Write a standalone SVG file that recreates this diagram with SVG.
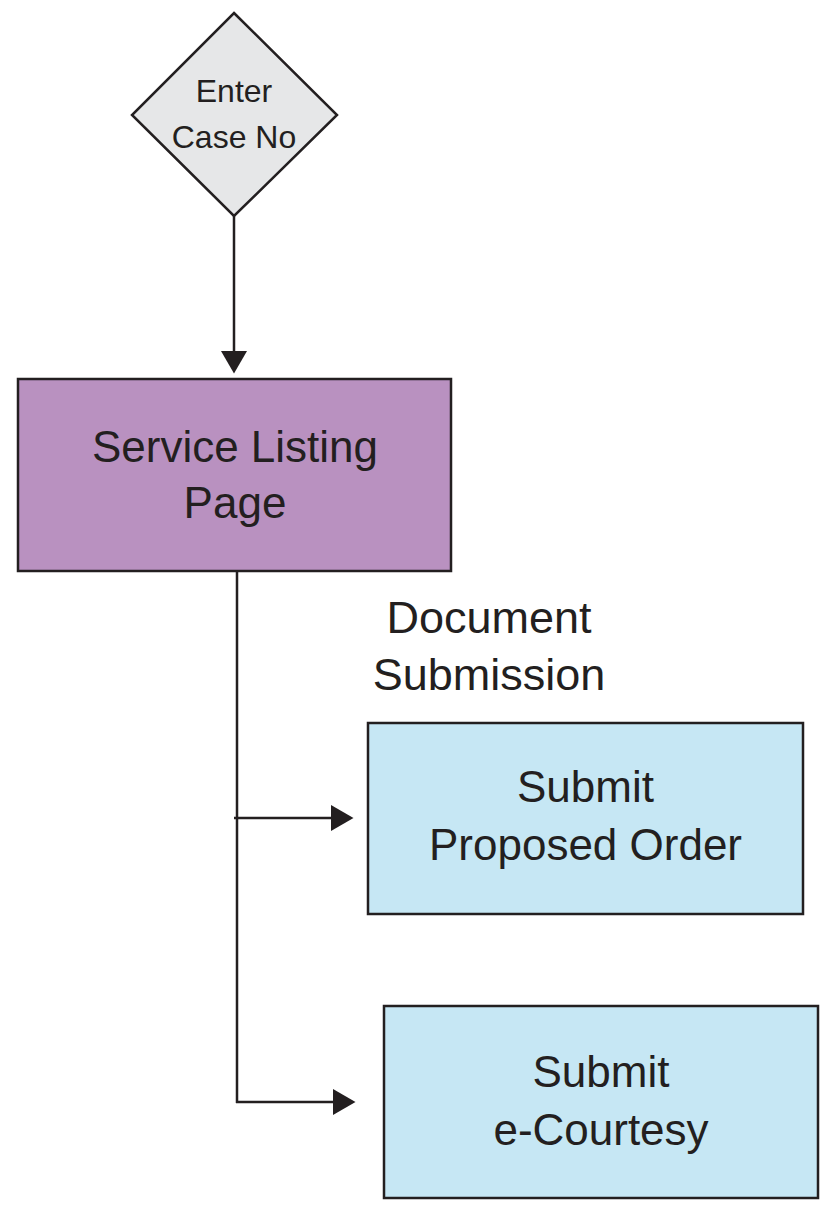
<svg xmlns="http://www.w3.org/2000/svg" width="824" height="1211" viewBox="0 0 824 1211">
  <style>
    .shape { stroke: #231f20; stroke-width: 2.5; }
    .decision { fill: #e6e7e8; }
    .page { fill: #b991c0; }
    .action { fill: #c6e7f4; }
    .label { font-family: "Liberation Sans", Arial, sans-serif; fill: #231f20; text-anchor: middle; }
    .conn { stroke: #231f20; stroke-width: 2.5; fill: none; }
  </style>
  <defs>
    <marker id="arrow" markerUnits="userSpaceOnUse" markerWidth="24" markerHeight="28" refX="0" refY="13" orient="auto" viewBox="0 0 24 28">
      <path d="M0,0 L22.5,13 L0,26 Z" fill="#231f20"/>
    </marker>
  </defs>
  <rect width="824" height="1211" fill="#ffffff"/>

  <g id="connectors">
    <line class="conn" x1="234" y1="216" x2="234" y2="351" marker-end="url(#arrow)"/>
    <line class="conn" x1="237" y1="571" x2="237" y2="1103"/>
    <line class="conn" x1="234" y1="818" x2="331" y2="818" marker-end="url(#arrow)"/>
    <line class="conn" x1="236" y1="1102" x2="333" y2="1102" marker-end="url(#arrow)"/>
  </g>

  <g id="enter-case-no">
    <polygon class="shape decision" points="234,13 337,115 234,216 132,115"/>
    <text class="label" font-size="32" x="234" y="102">Enter</text>
    <text class="label" font-size="32" x="234" y="148">Case No</text>
  </g>

  <g id="service-listing-page">
    <rect class="shape page" x="18" y="379" width="433" height="192"/>
    <text class="label" font-size="44" x="235" y="462">Service Listing</text>
    <text class="label" font-size="44" x="235" y="518">Page</text>
  </g>

  <g id="document-submission-label">
    <text class="label" font-size="45" x="489" y="633">Document</text>
    <text class="label" font-size="45" x="489" y="690">Submission</text>
  </g>

  <g id="submit-proposed-order">
    <rect class="shape action" x="368" y="723" width="435" height="191"/>
    <text class="label" font-size="44" x="585.5" y="802">Submit</text>
    <text class="label" font-size="44" x="585.5" y="860">Proposed Order</text>
  </g>

  <g id="submit-e-courtesy">
    <rect class="shape action" x="384" y="1006" width="434" height="192"/>
    <text class="label" font-size="44" x="601" y="1087">Submit</text>
    <text class="label" font-size="44" x="601" y="1145">e-Courtesy</text>
  </g>
</svg>
